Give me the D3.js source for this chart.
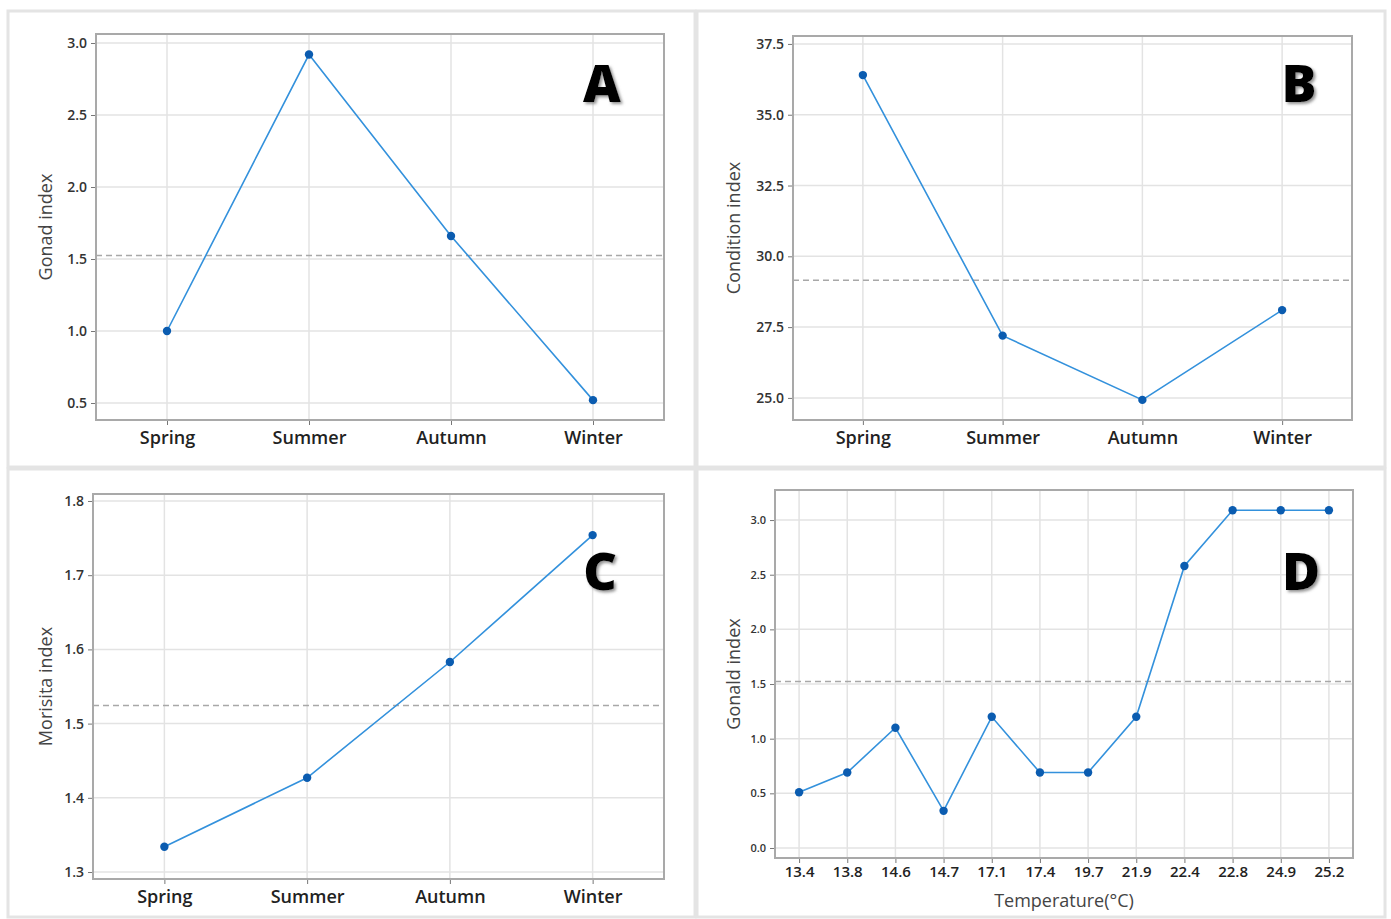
<!DOCTYPE html>
<html>
<head>
<meta charset="utf-8">
<script src="https://cdn.jsdelivr.net/npm/d3@7"></script>
<style>
  body { margin: 0; background: #fff; }
  svg text { font-family: "Open Sans", "Segoe UI", sans-serif; }
</style>
</head>
<body>
<div id="chart"></div>
<script>
// seasonal data (panels A-C)
const seasons = ["Spring", "Summer", "Autumn", "Winter"]
const gonadIndex = [1.0, 2.92, 1.66, 0.52]
const conditionIndex = [36.4, 27.2, 24.93, 28.1]
const morisitaIndex = [1.334, 1.427, 1.583, 1.754]

// temperature data (panel D)
const temperatures = ["13.4", "13.8", "14.6", "14.7", "17.1", "17.4", "19.7", "21.9", "22.4", "22.8", "24.9", "25.2"]
const gonaldIndex = [0.51, 0.69, 1.10, 0.34, 1.20, 0.69, 0.69, 1.20, 2.58, 3.09, 3.09, 3.09]

// tick labels
const ticksA = [0.5, 1.0, 1.5, 2.0, 2.5, 3.0]
const ticksB = [25.0, 27.5, 30.0, 32.5, 35.0, 37.5]
const ticksC = [1.3, 1.4, 1.5, 1.6, 1.7, 1.8]
const ticksD = [0.0, 0.5, 1.0, 1.5, 2.0, 2.5, 3.0]

const W = 1391, H = 919

const panels = [
  { letter: "A", cats: seasons, values: gonadIndex, ticks: ticksA, fmt: ".1f", title: "Gonad index",
    box: { x0: 96, x1: 664, y0: 34, y1: 420 }, domain: [0.382, 3.0625],
    titleX: 45, letterPos: [602, 102], catSize: 18, tickSize: 14, catPad: 6 },
  { letter: "B", cats: seasons, values: conditionIndex, ticks: ticksB, fmt: ".1f", title: "Condition index",
    box: { x0: 793, x1: 1352, y0: 36, y1: 420 }, domain: [24.22, 37.78],
    titleX: 733, letterPos: [1299, 102], catSize: 18, tickSize: 14, catPad: 6 },
  { letter: "C", cats: seasons, values: morisitaIndex, ticks: ticksC, fmt: ".1f", title: "Morisita index",
    box: { x0: 93, x1: 664, y0: 494, y1: 879 }, domain: [1.2906, 1.8094],
    titleX: 45, letterPos: [600, 590], catSize: 18, tickSize: 14, catPad: 6 },
  { letter: "D", cats: temperatures, values: gonaldIndex, ticks: ticksD, fmt: ".1f", title: "Gonald index",
    box: { x0: 775, x1: 1353, y0: 490, y1: 858 }, domain: [-0.0915, 3.275],
    titleX: 733, letterPos: [1301, 590], catSize: 15, tickSize: 11, catPad: 3, xTitle: "Temperature(°C)" }
]

const svg = d3.select("#chart").append("svg")
  .attr("width", W)
  .attr("height", H)

const defs = svg.append("defs")
const shadow = defs.append("filter").attr("id", "shadow")
  .attr("x", "-30%").attr("y", "-30%").attr("width", "160%").attr("height", "160%")
shadow.append("feDropShadow")
  .attr("dx", 2).attr("dy", 2).attr("stdDeviation", 1.6)
  .attr("flood-color", "#777").attr("flood-opacity", 0.8)

// quadrant borders
const quads = [[8, 11, 687, 456], [697, 11, 688, 456], [8, 469, 687, 448], [697, 469, 688, 448]]
svg.selectAll("rect.quad")
  .data(quads)
  .enter()
  .append("rect")
  .attr("class", "quad")
  .attr("x", d => d[0]).attr("y", d => d[1])
  .attr("width", d => d[2]).attr("height", d => d[3])
  .attr("fill", "#fff")
  .attr("stroke", "#e4e4e4")
  .attr("stroke-width", 3)

panels.forEach(p => {
  const b = p.box
  const x = d3.scalePoint().domain(p.cats).range([b.x0, b.x1]).padding(0.5)
  const y = d3.scaleLinear().domain(p.domain).range([b.y1, b.y0])
  const g = svg.append("g")

  // grid
  g.selectAll("line.hgrid")
    .data(p.ticks)
    .enter()
    .append("line")
    .attr("x1", b.x0).attr("x2", b.x1)
    .attr("y1", d => y(d)).attr("y2", d => y(d))
    .attr("stroke", "#e3e3e3").attr("stroke-width", 1.5)
  g.selectAll("line.vgrid")
    .data(p.cats)
    .enter()
    .append("line")
    .attr("x1", d => x(d)).attr("x2", d => x(d))
    .attr("y1", b.y0).attr("y2", b.y1)
    .attr("stroke", "#e3e3e3").attr("stroke-width", 1.5)

  // mean reference line
  const mean = d3.mean(p.values)
  g.append("line")
    .attr("x1", b.x0).attr("x2", b.x1)
    .attr("y1", y(mean)).attr("y2", y(mean))
    .attr("stroke", "#a8a8a8").attr("stroke-width", 1.5)
    .attr("stroke-dasharray", "6,4")

  // axes
  const yAxis = g.append("g")
    .attr("transform", `translate(${b.x0},0)`)
    .call(d3.axisLeft(y).tickValues(p.ticks).tickFormat(d3.format(p.fmt)).tickSize(5).tickPadding(4))
  yAxis.select(".domain").remove()
  yAxis.selectAll("line").attr("stroke", "#777")
  yAxis.selectAll("text")
    .attr("font-size", p.tickSize).attr("font-weight", 600).attr("fill", "#333")

  const xAxis = g.append("g")
    .attr("transform", `translate(0,${b.y1})`)
    .call(d3.axisBottom(x).tickSize(5).tickPadding(p.catPad))
  xAxis.select(".domain").remove()
  xAxis.selectAll("line").attr("stroke", "#777")
  xAxis.selectAll("text")
    .attr("font-size", p.catSize).attr("font-weight", 600).attr("fill", "#222")

  // frame
  g.append("rect")
    .attr("x", b.x0).attr("y", b.y0)
    .attr("width", b.x1 - b.x0).attr("height", b.y1 - b.y0)
    .attr("fill", "none")
    .attr("stroke", "#a9a9a9")
    .attr("stroke-width", 2)

  // series
  const line = d3.line()
    .x((d, i) => x(p.cats[i]))
    .y(d => y(d))
  g.append("path")
    .datum(p.values)
    .attr("d", line)
    .attr("fill", "none")
    .attr("stroke", "#3391dc")
    .attr("stroke-width", 1.6)
  g.selectAll("circle")
    .data(p.values)
    .enter()
    .append("circle")
    .attr("cx", (d, i) => x(p.cats[i]))
    .attr("cy", d => y(d))
    .attr("r", 4.2)
    .attr("fill", "#0b5cb0")

  // axis titles
  const midY = (b.y0 + b.y1) / 2
  g.append("text")
    .attr("transform", `translate(${p.titleX},${midY}) rotate(-90)`)
    .attr("text-anchor", "middle")
    .attr("dominant-baseline", "central")
    .attr("font-size", 18)
    .attr("fill", "#444")
    .text(p.title)
  if (p.xTitle) {
    g.append("text")
      .attr("x", (b.x0 + b.x1) / 2)
      .attr("y", 907)
      .attr("text-anchor", "middle")
      .attr("font-size", 18)
      .attr("fill", "#444")
      .text(p.xTitle)
  }

  // panel letter
  g.append("text")
    .attr("x", p.letterPos[0])
    .attr("y", p.letterPos[1])
    .attr("text-anchor", "middle")
    .attr("font-size", 52)
    .attr("font-weight", 800)
    .attr("fill", "#000")
    .attr("filter", "url(#shadow)")
    .text(p.letter)
})
</script>
</body>
</html>
